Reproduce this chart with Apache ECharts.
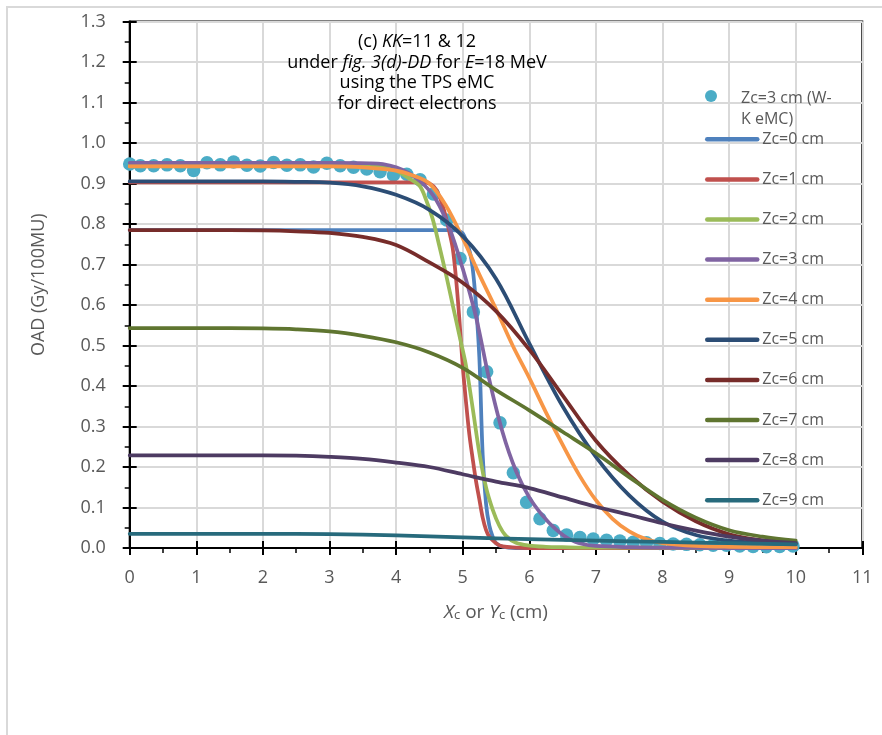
<!DOCTYPE html>
<html>
<head>
<meta charset="utf-8">
<script src="https://cdn.jsdelivr.net/npm/echarts@6/dist/echarts.min.js"></script>
<style>
  html, body { margin: 0; padding: 0; background: #ffffff; }
  #chart { width: 882px; height: 735px; }
</style>
</head>
<body>
<div id="chart"></div>
<script>
// Off-axis dose profiles, E = 18 MeV, direct electrons
const FONT = "'Open Sans', 'Noto Sans', sans-serif";

// W-K eMC reference points at Zc = 3 cm
const emcX = [0, 0.16, 0.36, 0.56, 0.76, 0.96, 1.16, 1.36, 1.56, 1.76, 1.96, 2.16, 2.36, 2.56, 2.76, 2.96,
  3.16, 3.36, 3.56, 3.76, 3.96, 4.16, 4.36, 4.56, 4.76, 4.96, 5.16, 5.36, 5.56, 5.76, 5.96, 6.16, 6.36,
  6.56, 6.76, 6.96, 7.16, 7.36, 7.56, 7.76, 7.96, 8.16, 8.36, 8.56, 8.76, 8.96, 9.16, 9.36, 9.56, 9.76, 9.96];
const emcY = [0.948, 0.944, 0.944, 0.946, 0.944, 0.932, 0.951, 0.946, 0.953, 0.945, 0.943, 0.952, 0.945, 0.946, 0.941, 0.950,
  0.944, 0.940, 0.936, 0.929, 0.921, 0.923, 0.909, 0.874, 0.810, 0.715, 0.583, 0.435, 0.309, 0.186, 0.113, 0.072, 0.043,
  0.032, 0.026, 0.022, 0.019, 0.017, 0.014, 0.013, 0.011, 0.010, 0.009, 0.008, 0.007, 0.007, 0.005, 0.004, 0.003, 0.004, 0.005];

// TPS profiles, [x (cm), OAD]
const zc0 = [[0,0.785],[1,0.785],[2,0.785],[3,0.785],[4,0.785],[4.6,0.785],[4.8,0.785],[4.9,0.784],[5.0,0.777],[5.1,0.735],
  [5.15,0.69],[5.2,0.6],[5.25,0.47],[5.3,0.23],[5.35,0.11],[5.4,0.055],[5.45,0.028],[5.5,0.012],[5.6,0.003],[5.8,0],
  [6,0],[7,0],[8,0],[9,0],[10,0]];
const zc1 = [[0,0.903],[1,0.903],[2,0.903],[3,0.903],[4,0.903],[4.4,0.903],[4.5,0.9],[4.6,0.885],[4.7,0.845],[4.8,0.78],
  [4.85,0.74],[4.9,0.665],[4.95,0.565],[5.0,0.45],[5.05,0.36],[5.1,0.28],[5.15,0.22],[5.2,0.165],[5.25,0.12],[5.3,0.075],
  [5.35,0.045],[5.4,0.028],[5.5,0.012],[5.6,0.004],[5.8,0.001],[6,0],[7,0],[8,0],[9,0],[10,0]];
const zc2 = [[0,0.946],[1,0.946],[2,0.946],[3,0.946],[3.5,0.945],[3.8,0.942],[4.0,0.932],[4.2,0.912],[4.35,0.895],[4.45,0.86],
  [4.55,0.812],[4.65,0.745],[4.75,0.675],[4.85,0.6],[4.95,0.525],[5.05,0.45],[5.15,0.345],[5.25,0.235],[5.35,0.15],[5.45,0.095],
  [5.55,0.055],[5.65,0.03],[5.8,0.013],[6.0,0.006],[6.25,0.003],[6.5,0.002],[7,0.001],[8,0.001],[9,0],[10,0]];
const zc3 = [[0,0.951],[1,0.951],[2,0.951],[3,0.951],[3.6,0.95],[3.8,0.948],[4.0,0.94],[4.2,0.925],[4.4,0.9],[4.6,0.86],
  [4.8,0.79],[5.0,0.69],[5.2,0.57],[5.4,0.415],[5.6,0.285],[5.8,0.19],[6.0,0.125],[6.2,0.08],[6.4,0.046],[6.6,0.022],
  [6.8,0.01],[7.0,0.005],[7.5,0.002],[8,0.001],[9,0],[10,0]];
const zc4 = [[0,0.942],[1,0.942],[2,0.942],[3,0.942],[3.5,0.94],[4.0,0.932],[4.25,0.92],[4.5,0.9],[4.75,0.845],[5.0,0.765],
  [5.25,0.675],[5.5,0.59],[5.75,0.5],[6.0,0.42],[6.25,0.335],[6.5,0.255],[6.75,0.18],[7.0,0.118],[7.25,0.072],[7.5,0.041],
  [7.75,0.022],[8.0,0.012],[8.5,0.005],[9,0.003],[10,0.002]];
const zc5 = [[0,0.905],[1,0.905],[2,0.905],[2.5,0.904],[3,0.902],[3.5,0.893],[4.0,0.872],[4.5,0.835],[5.0,0.77],[5.5,0.665],
  [6.0,0.505],[6.5,0.35],[7.0,0.225],[7.5,0.13],[8.0,0.065],[8.5,0.032],[9.0,0.018],[9.5,0.012],[10,0.01]];
const zc6 = [[0,0.785],[1,0.785],[2,0.784],[2.5,0.782],[3.0,0.778],[3.5,0.768],[4.0,0.748],[4.5,0.705],[5.0,0.655],[5.5,0.585],
  [6.0,0.49],[6.5,0.377],[7.0,0.265],[7.5,0.18],[8.0,0.114],[8.5,0.066],[9.0,0.034],[9.5,0.019],[10,0.012]];
const zc7 = [[0,0.543],[1,0.543],[2,0.542],[2.5,0.54],[3,0.535],[3.5,0.524],[4,0.508],[4.5,0.483],[5,0.445],[5.5,0.39],
  [6,0.34],[6.5,0.287],[7,0.234],[7.5,0.175],[8,0.119],[8.5,0.075],[9,0.044],[9.5,0.028],[10,0.018]];
const zc8 = [[0,0.229],[1,0.229],[2,0.229],[2.5,0.228],[3,0.225],[3.5,0.22],[4,0.211],[4.5,0.2],[5,0.182],[5.5,0.164],
  [6,0.148],[6.5,0.125],[7,0.102],[7.5,0.082],[8,0.061],[8.5,0.043],[9,0.028],[9.5,0.018],[10,0.012]];
const zc9 = [[0,0.035],[1,0.035],[2,0.035],[3,0.034],[4,0.031],[5,0.026],[6,0.022],[7,0.018],[8,0.015],[9,0.012],[10,0.009]];

const emcName = 'Zc=3 cm (W-K eMC)';
const lineNames = ['Zc=0 cm', 'Zc=1 cm', 'Zc=2 cm', 'Zc=3 cm', 'Zc=4 cm', 'Zc=5 cm', 'Zc=6 cm', 'Zc=7 cm', 'Zc=8 cm', 'Zc=9 cm'];
const lineData = [zc0, zc1, zc2, zc3, zc4, zc5, zc6, zc7, zc8, zc9];
const lineColors = ['#4F81BD', '#C0504D', '#9BBB59', '#8064A2', '#F79646', '#2C4D75', '#772C2A', '#5F7530', '#4D3B62', '#276A7C'];
const emcColor = '#4BACC6';

const titleLines = [
  '(c) {i|KK}=11 & 12',
  'under {i|fig. 3(d)-DD} for {i|E}=18 MeV',
  'using the TPS eMC',
  'for direct electrons'
];

const GREY = '#595959';
const chart = echarts.init(document.getElementById('chart'), null, { renderer: 'canvas' });

const richTitle = {
  i: { fontStyle: 'italic', fontSize: 18, fontFamily: FONT, fill: '#000' }
};
const titleRows = [42, 62.5, 83, 104];

const series = [{
  name: emcName,
  type: 'scatter',
  data: emcX.map((x, i) => [x, emcY[i]]),
  symbol: 'circle',
  symbolSize: 13.5,
  itemStyle: { color: emcColor, opacity: 1 },
  clip: false,
  z: 2
}];
lineData.forEach((d, k) => {
  series.push({
    name: lineNames[k],
    type: 'line',
    data: d,
    smooth: 0.35,
    symbol: 'none',
    showSymbol: false,
    clip: false,
    lineStyle: { color: lineColors[k], width: 3.75, cap: 'round', join: 'round' },
    itemStyle: { color: lineColors[k] },
    z: 3
  });
});

const axisBlack = { color: '#000', width: 2 };

chart.setOption({
  animation: false,
  backgroundColor: '#ffffff',
  textStyle: { fontFamily: FONT },
  grid: {
    left: 129.7, right: 19.7, top: 21.5, bottom: 187,
    show: true, borderColor: '#000', borderWidth: 2, backgroundColor: 'transparent'
  },
  graphic: [
    {
      type: 'rect', silent: true, z: -10,
      shape: { x: 7, y: 7, width: 900, height: 900 },
      style: { fill: 'none', stroke: '#d9d9d9', lineWidth: 2 }
    }
  ].concat(titleLines.map((t, k) => ({
    type: 'text', silent: true, z: 10,
    x: 417, y: titleRows[k],
    style: {
      text: t, rich: richTitle, fontSize: 18, fontFamily: FONT, fill: '#000',
      align: 'center', verticalAlign: 'middle'
    }
  }))),
  legend: [
    {
      data: [emcName],
      orient: 'vertical',
      left: 705, top: 67,
      padding: 0,
      itemWidth: 50, itemHeight: 12,
      icon: 'circle',
      formatter: (name) => '{b| }\n{a|' + name.replace('W-', 'W-}\n{a|') + '}',
      textStyle: {
        color: GREY, fontSize: 16, fontFamily: FONT,
        rich: {
          a: { color: GREY, fontSize: 16, fontFamily: FONT, lineHeight: 21 },
          b: { color: GREY, fontSize: 16, fontFamily: FONT, lineHeight: 26 }
        }
      }
    },
    {
      data: lineNames,
      orient: 'vertical',
      left: 705, top: 131.3,
      padding: 0,
      itemWidth: 50, itemHeight: 14, itemGap: 24.1,
      itemStyle: { opacity: 0 },
      lineStyle: { width: 4.5, cap: 'round' },
      textStyle: { color: GREY, fontSize: 16, fontFamily: FONT }
    }
  ],
  xAxis: [
    {
      type: 'value', min: 0, max: 11, interval: 1, position: 'bottom',
      axisLine: { lineStyle: axisBlack },
      axisTick: { show: true, inside: false, length: 7, lineStyle: axisBlack },
      minorTick: { show: true, splitNumber: 2, length: 5, lineStyle: { color: '#000', width: 1.5 } },
      splitLine: { show: true, lineStyle: { color: '#d9d9d9', width: 2 } },
      axisLabel: { color: GREY, fontSize: 18, fontFamily: FONT, margin: 21 },
      name: '{i|X}{s|c}{n| or }{i|Y}{s|c}{n| (cm)}',
      nameLocation: 'middle', nameGap: 52,
      nameTextStyle: {
        rich: {
          i: { fontStyle: 'italic', fontSize: 19, fontFamily: FONT, color: GREY, lineHeight: 22, verticalAlign: 'bottom' },
          s: { fontSize: 13, fontFamily: FONT, color: GREY, lineHeight: 14, verticalAlign: 'bottom' },
          n: { fontSize: 19, fontFamily: FONT, color: GREY, lineHeight: 22, verticalAlign: 'bottom' }
        }
      }
    },
    {
      type: 'value', min: 0, max: 11, interval: 1, position: 'bottom',
      axisLine: { show: false },
      axisTick: { show: true, inside: true, length: 7, lineStyle: axisBlack },
      axisLabel: { show: false },
      splitLine: { show: false }
    }
  ],
  yAxis: [
    {
      type: 'value', min: 0, max: 1.3, interval: 0.1, position: 'left',
      axisLine: { show: true, lineStyle: axisBlack },
      axisTick: { show: true, inside: false, length: 7, lineStyle: axisBlack },
      minorTick: { show: true, splitNumber: 2, length: 5, lineStyle: { color: '#000', width: 1.5 } },
      splitLine: { show: true, lineStyle: { color: '#d9d9d9', width: 2 } },
      axisLabel: { color: GREY, fontSize: 18, fontFamily: FONT, margin: 24, formatter: (v) => v.toFixed(1) },
      name: 'OAD (Gy/100MU)',
      nameLocation: 'middle', nameRotate: 90, nameGap: 82,
      nameTextStyle: { color: GREY, fontSize: 18, fontFamily: FONT }
    },
    {
      type: 'value', min: 0, max: 1.3, interval: 0.1, position: 'left',
      axisLine: { show: false },
      axisTick: { show: true, inside: true, length: 7, lineStyle: axisBlack },
      axisLabel: { show: false },
      splitLine: { show: false }
    }
  ],
  series: series
});
</script>
</body>
</html>
